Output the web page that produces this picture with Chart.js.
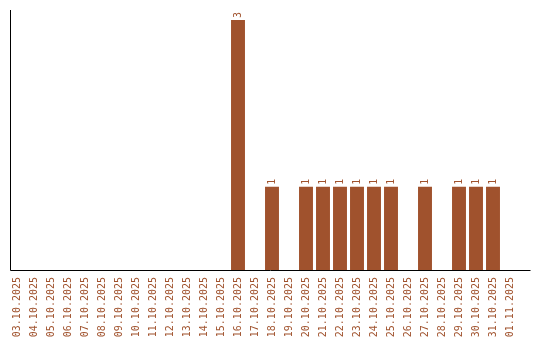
<!DOCTYPE html>
<html>
<head>
<meta charset="utf-8">
<script src="https://cdn.jsdelivr.net/npm/chart.js@4/dist/chart.umd.min.js"></script>
<style>
  html, body { margin: 0; padding: 0; background: #fff; }
  #wrap { width: 540px; height: 340px; }
</style>
</head>
<body>
<div id="wrap"><canvas id="barChart" width="540" height="340"></canvas></div>
<script>
const labels = ['03.10.2025','04.10.2025','05.10.2025','06.10.2025','07.10.2025','08.10.2025','09.10.2025','10.10.2025',
  '11.10.2025','12.10.2025','13.10.2025','14.10.2025','15.10.2025','16.10.2025','17.10.2025','18.10.2025',
  '19.10.2025','20.10.2025','21.10.2025','22.10.2025','23.10.2025','24.10.2025','25.10.2025','26.10.2025',
  '27.10.2025','28.10.2025','29.10.2025','30.10.2025','31.10.2025','01.11.2025'];
const counts = [0,0,0,0,0,0,0,0,0,0,0,0,0,3,0,1,0,1,1,1,1,1,1,0,1,0,1,1,1,0];

const brown = '#A0522D';
const monoFont = '10px "DejaVu Sans Mono", "Liberation Mono", monospace';

// axis lines drawn like the original (a bit outside the category area)
const axisLines = {
    id: 'axisLines',
    afterDraw(chart) {
        const ctx = chart.ctx;
        const area = chart.chartArea;
        ctx.save();
        ctx.strokeStyle = '#000';
        ctx.lineWidth = 1;
        ctx.beginPath();
        ctx.moveTo(area.left + 2, area.top);
        ctx.lineTo(area.left + 2, area.bottom + 0.5);
        ctx.lineTo(area.right + 12, area.bottom + 0.5);
        ctx.stroke();
        ctx.restore();
    }
};

// value labels above the bars, rotated
const valueLabels = {
    id: 'valueLabels',
    afterDatasetsDraw(chart) {
        const ctx = chart.ctx;
        const meta = chart.getDatasetMeta(0);
        ctx.save();
        ctx.fillStyle = brown;
        ctx.font = monoFont;
        ctx.textAlign = 'left';
        ctx.textBaseline = 'middle';
        meta.data.forEach(function (bar, i) {
            const v = counts[i];
            if (!v) return;
            ctx.save();
            ctx.translate(bar.x, bar.y - 2);
            ctx.rotate(-Math.PI / 2);
            ctx.fillText(String(v), 0, 0);
            ctx.restore();
        });
        ctx.restore();
    }
};

const ctx = document.getElementById('barChart').getContext('2d');
const myChart = new Chart(ctx, {
    type: 'bar',
    data: {
        labels: labels,
        datasets: [{
            data: counts,
            backgroundColor: brown,
            borderWidth: 0,
            categoryPercentage: 1,
            barPercentage: 0.82
        }]
    },
    options: {
        responsive: false,
        animation: false,
        layout: { padding: { left: 8.5, right: 21.5, top: 10, bottom: 0 } },
        scales: {
            x: {
                grid: { display: false, drawTicks: false },
                border: { display: false },
                ticks: {
                    color: brown,
                    font: { family: '"DejaVu Sans Mono", "Liberation Mono", monospace', size: 10 },
                    minRotation: 90,
                    maxRotation: 90,
                    autoSkip: false,
                    padding: 7
                },
                afterFit(scale) { scale.height = 70; }
            },
            y: {
                display: false,
                beginAtZero: true,
                min: 0,
                max: 3.12
            }
        },
        plugins: {
            legend: { display: false },
            tooltip: { enabled: false }
        }
    },
    plugins: [axisLines, valueLabels]
});
</script>
</body>
</html>
